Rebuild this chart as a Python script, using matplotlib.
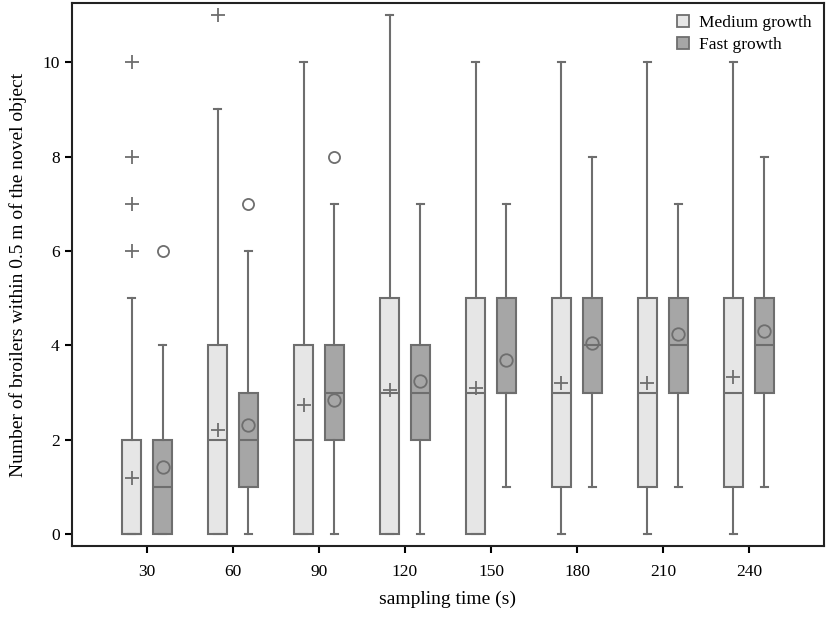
import matplotlib
matplotlib.use("Agg")
import matplotlib.pyplot as plt
from matplotlib.patches import Patch
import numpy as np

plt.rcParams['font.family'] = ['Liberation Serif', 'DejaVu Serif']

times = [30, 60, 90, 120, 150, 180, 210, 240]

# Medium growth
med_low = [0, 0, 0, 0, 0, 0, 0, 0]
med_q1 = [0, 0, 0, 0, 0, 1, 1, 1]
med_median = [0, 2, 2, 3, 3, 3, 3, 3]
med_q3 = [2, 4, 4, 5, 5, 5, 5, 5]
med_high = [5, 9, 10, 11, 10, 10, 10, 10]
med_mean = [1.19, 2.2, 2.73, 3.05, 3.09, 3.2, 3.2, 3.33]
med_fliers = [[6, 7, 8, 10], [11], [], [], [], [], [], []]

# Fast growth
fast_low = [0, 0, 0, 0, 1, 1, 1, 1]
fast_q1 = [0, 1, 2, 2, 3, 3, 3, 3]
fast_median = [1, 2, 3, 3, 3, 4, 4, 4]
fast_q3 = [2, 3, 4, 4, 5, 5, 5, 5]
fast_high = [4, 6, 7, 7, 7, 8, 7, 8]
fast_mean = [1.43, 2.32, 2.85, 3.25, 3.68, 4.05, 4.24, 4.31]
fast_fliers = [[6], [7], [8], [], [], [], [], []]

EDGE = '#6e6e6e'
MED_FILL = '#e6e6e6'
FAST_FILL = '#a6a6a6'


def make_stats(low, q1, med, q3, high, mean, fliers):
    return [dict(whislo=a, q1=b, med=c, q3=d, whishi=e, mean=m, fliers=f)
            for a, b, c, d, e, m, f in zip(low, q1, med, q3, high, mean, fliers)]


fig = plt.figure(figsize=(8.29, 6.19), dpi=100)
ax = fig.add_axes([0.0869, 0.118, 0.907, 0.877])

x = np.arange(1, len(times) + 1)
off = 0.18
w = 0.22

groups = [
    (make_stats(med_low, med_q1, med_median, med_q3, med_high, med_mean, med_fliers),
     x - off, MED_FILL, '+'),
    (make_stats(fast_low, fast_q1, fast_median, fast_q3, fast_high, fast_mean, fast_fliers),
     x + off, FAST_FILL, 'o'),
]

for stats, pos, fill, mk in groups:
    ax.bxp(stats, positions=pos, widths=w, capwidths=0.09, patch_artist=True,
           showmeans=True, showfliers=True, manage_ticks=False,
           boxprops=dict(facecolor=fill, edgecolor=EDGE, linewidth=1.5),
           whiskerprops=dict(color=EDGE, linewidth=1.5),
           capprops=dict(color=EDGE, linewidth=1.5),
           medianprops=dict(color=EDGE, linewidth=1.5),
           meanprops=dict(marker=mk, markersize=10 if mk == '+' else 9,
                          markerfacecolor='none', markeredgecolor=EDGE,
                          markeredgewidth=1.3, linestyle='none'),
           flierprops=dict(marker=mk, markersize=10 if mk == '+' else 8,
                           markerfacecolor='none', markeredgecolor=EDGE,
                           markeredgewidth=1.3, linestyle='none'))

ax.set_xlim(0.128, 8.872)
ax.set_ylim(-0.25, 11.25)
ax.set_xticks(x)
ax.set_xticklabels([str(t) for t in times])
ax.set_yticks([0, 2, 4, 6, 8, 10])
ax.tick_params(axis='both', direction='out', length=5, width=1.5,
               labelsize=12.5, colors='black')
ax.tick_params(axis='x', pad=8)
ax.tick_params(axis='y', pad=4)
ax.tick_params(top=False, right=False)
for s in ax.spines.values():
    s.set_linewidth(1.5)
    s.set_color('#222222')

ax.set_xlabel('sampling time (s)', fontsize=14, labelpad=8)
ax.set_ylabel('Number of broilers within 0.5 m of the novel object', fontsize=14)
ax.yaxis.set_label_coords(-0.06, 0.5)

handles = [Patch(facecolor=MED_FILL, edgecolor=EDGE, linewidth=1.3, label='Medium growth'),
           Patch(facecolor=FAST_FILL, edgecolor=EDGE, linewidth=1.3, label='Fast growth')]
ax.legend(handles=handles, loc='upper right', frameon=False, fontsize=12.5,
          handlelength=0.7, handleheight=0.7, handletextpad=0.6,
          labelspacing=0.3, borderaxespad=0.3)

fig.savefig('out.png', dpi=100)
